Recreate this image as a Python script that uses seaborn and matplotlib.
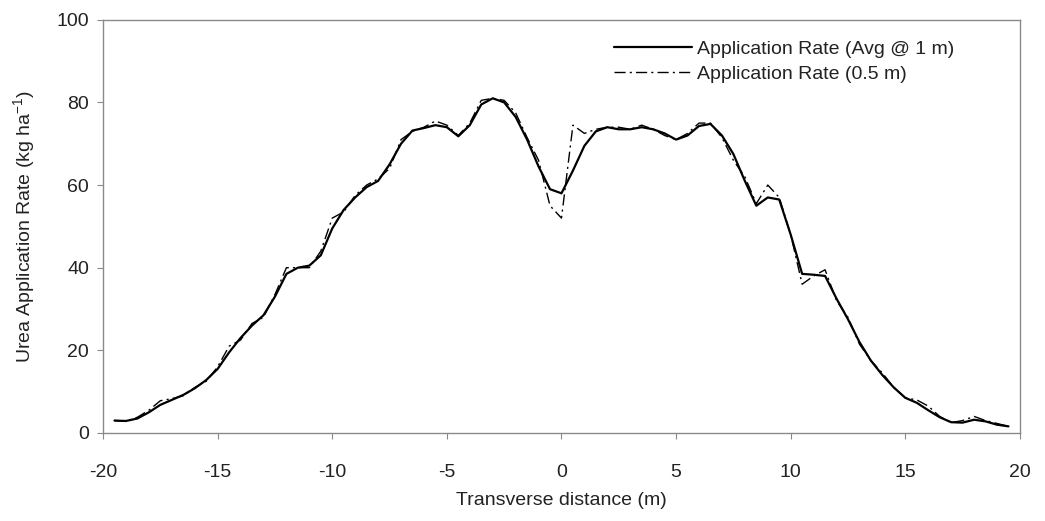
import numpy as np
import pandas as pd
import matplotlib
matplotlib.use("Agg")
import matplotlib.pyplot as plt
import seaborn as sns

# dados (distancia transversal em m, taxa em kg/ha)
distancia = np.arange(-19.5, 19.51, 0.5)

taxa_media_1m = [3, 2.9, 3.5, 5, 6.8, 8, 9.2, 10.8, 12.8, 15.5,
                 19.5, 23, 26, 28.5, 33, 38.5, 40, 40.5, 43, 49.5,
                 54, 57, 59.5, 61, 65, 70, 73.2, 73.8, 74.5, 74,
                 71.8, 74.5, 79.5, 81, 80, 76.5, 71, 64.5, 59, 58,
                 63.5, 69.5, 73, 74, 73.5, 73.5, 74, 73.5, 72.5, 71,
                 72, 74.3, 74.8, 72, 67.5, 61, 55, 57, 56.5, 48,
                 38.5, 38.3, 38, 32.5, 27.5, 22, 17.5, 14, 11, 8.5,
                 7.3, 5.5, 3.8, 2.6, 2.5, 3.2, 2.8, 2, 1.6]

taxa_05m = [3, 2.8, 3.8, 5.5, 7.8, 8.3, 9, 11, 12.5, 16,
            21, 22.5, 26.5, 28, 33.5, 40, 40, 40, 44, 52,
            53.5, 57.5, 60, 61.5, 64, 71, 73, 74, 75.5, 74.5,
            72, 75, 80.5, 81, 80.5, 77.5, 71.5, 66, 55, 52,
            74.5, 72.5, 73.5, 74, 74, 73.5, 74.5, 73.5, 72, 71,
            72.5, 75, 75, 71.5, 66, 62, 55.5, 60, 57, 48,
            36, 38, 39.5, 32, 28, 21.5, 17.5, 14.5, 11, 8.5,
            8, 6.5, 4, 2.5, 3, 4, 3, 2.3, 1.6]

df = pd.DataFrame({"Distancia": distancia,
                   "Media": taxa_media_1m,
                   "Meio": taxa_05m})

sns.set_style("white")
plt.rcParams["font.family"] = ["Liberation Sans", "DejaVu Sans"]
plt.rcParams["mathtext.fontset"] = "custom"
plt.rcParams["mathtext.rm"] = "Liberation Sans"
plt.rcParams["axes.unicode_minus"] = False

fig = plt.figure(figsize=(10.45, 5.21), dpi=100)
ax = fig.add_axes([0.0986, 0.169, 0.8774, 0.793])

sns.lineplot(data=df, x="Distancia", y="Media", ax=ax, color="black",
             linewidth=1.6, label="Application Rate (Avg @ 1 m)")
sns.lineplot(data=df, x="Distancia", y="Meio", ax=ax, color="black",
             linewidth=1.0, label="Application Rate (0.5 m)")
ax.lines[1].set_dashes([8, 3, 1.5, 3])

ax.set_xlim(-20, 20)
ax.set_ylim(0, 100)
ax.set_xticks(range(-20, 21, 5))
ax.set_yticks(range(0, 101, 20))
ax.set_xlabel("Transverse distance (m)", fontsize=14, labelpad=8, color="#222222")
ax.set_ylabel("Urea Application Rate (kg ha$^{-1}$)", fontsize=14, labelpad=13,
              color="#222222")

for s in ax.spines.values():
    s.set_color("#8a8a8a")
    s.set_linewidth(1.0)
ax.tick_params(axis="both", direction="out", length=4, color="#8a8a8a",
               labelsize=14, labelcolor="#222222", bottom=True, left=True, pad=6)
ax.tick_params(axis="x", pad=18)

leg = ax.legend(loc="upper right", bbox_to_anchor=(0.948, 0.992), frameon=False,
                fontsize=14, handlelength=4.0, handletextpad=0.3, labelspacing=0.35)
leg.get_lines()[1].set_dashes([8, 3, 1.5, 3])
for t in leg.get_texts():
    t.set_color("#222222")

fig.savefig("out.png", dpi=100)
